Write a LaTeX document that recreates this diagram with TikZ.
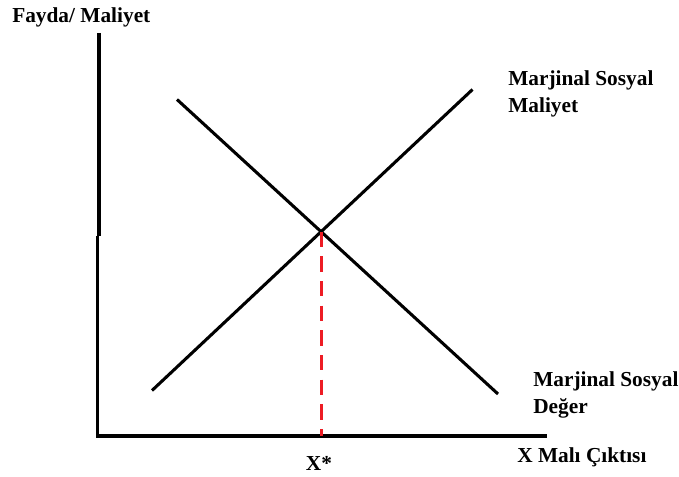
\documentclass[tikz,border=0pt]{standalone}
\usepackage{fontspec}
\setmainfont{Liberation Serif}
\usetikzlibrary{calc}
\definecolor{mred}{RGB}{237,28,36}
\begin{document}
\begin{tikzpicture}[x=0.75pt,y=-0.75pt,
  axisline/.style={line width=2.4pt},
  curve/.style={line width=2.3pt},
  guide/.style={line width=2.3pt,mred,dash pattern=on 11.5pt off 7pt},
  lbl/.style={font=\bfseries\fontsize{16}{20}\selectfont,inner sep=0pt,anchor=west,align=left}]
\useasboundingbox (0,0) rectangle (679,477);
% axes
\coordinate (ytop) at (99,33);
\coordinate (yjog1) at (99,236);
\coordinate (yjog2) at (97.5,236);
\coordinate (origin) at (97.5,436);
\coordinate (xend) at (546.5,436);
\draw[axisline] (ytop) -- (yjog1);
\draw[axisline] (yjog2) -- (origin) -- (xend);
% curves
\coordinate (mcA) at (152,390.5);
\coordinate (mcB) at (472.5,89.5);
\coordinate (mdA) at (177,99.5);
\coordinate (mdB) at (498,394);
\draw[curve] (mcA) -- (mcB);
\draw[curve] (mdA) -- (mdB);
\coordinate (eq) at (intersection of mcA--mcB and mdA--mdB);
\coordinate (xstar) at (eq |- origin);
\draw[guide] (eq) -- (xstar);
% labels
\node[lbl] (ylab) at (12,17) {Fayda/ Maliyet};
\node[lbl] (mcl) at (508,94) {Marjinal Sosyal\\Maliyet};
\node[lbl] (mdl) at (533,395) {Marjinal Sosyal\\Değer};
\node[lbl] (xlab) at (517,457) {X Malı Çıktısı};
\node[lbl,anchor=center] (xs) at (319,463) {X*};
\end{tikzpicture}
\end{document}
